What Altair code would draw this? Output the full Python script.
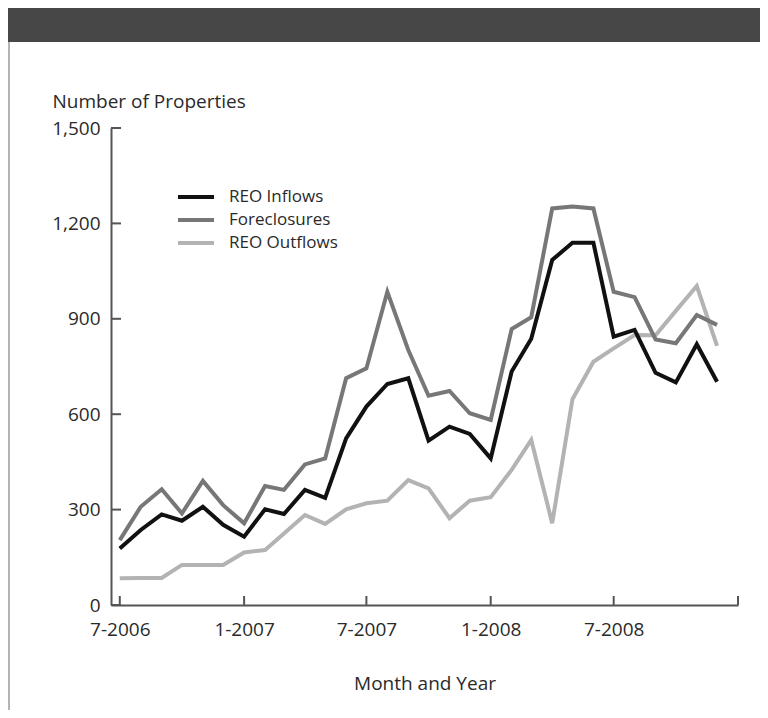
import altair as alt
import pandas as pd

months = pd.date_range("2006-07-01", "2008-12-01", freq="MS").strftime("%Y-%m-%d").tolist()

reo_inflows = [178, 236, 285, 265, 309, 252, 215, 301, 286, 362, 337, 524,
               624, 695, 713, 517, 561, 538, 461, 734, 837, 1085, 1139, 1139,
               844, 865, 730, 700, 820, 702]
foreclosures = [204, 309, 364, 288, 390, 314, 257, 374, 362, 442, 461, 713,
                744, 985, 802, 658, 673, 603, 582, 868, 905, 1247, 1253, 1247,
                985, 968, 835, 823, 912, 881]
reo_outflows = [84, 85, 85, 126, 126, 126, 165, 173, 225, 283, 255, 301,
                320, 328, 393, 367, 273, 328, 339, 425, 519, 257, 647, 765,
                807, 849, 848, 925, 1003, 815]

series_names = ["REO Inflows", "Foreclosures", "REO Outflows"]
series_colors = ["#111111", "#777777", "#b3b3b3"]

x_tick_dates = ["2006-07-01", "2007-01-01", "2007-07-01", "2008-01-01", "2008-07-01", "2009-01-01"]
y_tick_values = [0, 300, 600, 900, 1200, 1500]

rows = []
for name, vals in [("REO Outflows", reo_outflows), ("Foreclosures", foreclosures), ("REO Inflows", reo_inflows)]:
    for m, v in zip(months, vals):
        rows.append({"date": m, "series": name, "value": v})
df = pd.DataFrame(rows)

FONT = "Open Sans"
AX = "#555555"
TXT = "#2a2a2a"
W, H = 627, 477

xscale = alt.Scale(type="utc", domain=["2006-06-18", "2009-01-01"])
yscale = alt.Scale(domain=[0, 1500])

lines = alt.Chart(df).mark_line(strokeWidth=4, strokeJoin="miter", strokeCap="butt").encode(
    x=alt.X("date:T", scale=xscale,
            axis=alt.Axis(values=x_tick_dates,
                          labelExpr="year(datum.value) == 2009 ? '' : timeFormat(datum.value, '%-m-%Y')",
                          ticks=False, tickSize=0, grid=False, domainColor=AX, domainWidth=2,
                          labelFont=FONT, labelFontSize=19, labelColor=TXT, labelPadding=15,
                          title="Month and Year", titleFont=FONT, titleFontSize=19, titleFontWeight="normal",
                          titleColor=TXT, titleY=78, titleBaseline="middle")),
    y=alt.Y("value:Q", scale=yscale,
            axis=alt.Axis(values=y_tick_values, format=",d", ticks=False, tickSize=0, grid=False,
                          domainColor=AX, domainWidth=2, labelFont=FONT, labelFontSize=19,
                          labelColor=TXT, labelPadding=11,
                          title="Number of Properties", titleFont=FONT, titleFontSize=19,
                          titleFontWeight="normal", titleColor=TXT, titleAngle=0,
                          titleAlign="left", titleBaseline="alphabetic", titleX=-59, titleY=-21)),
    color=alt.Color("series:N", scale=alt.Scale(domain=series_names, range=series_colors),
                    legend=alt.Legend(title=None, orient="none", legendX=74, legendY=58, padding=0,
                                      symbolType="M-2,0H2", symbolSize=324, symbolStrokeWidth=4,
                                      labelFont=FONT, labelFontSize=17, labelColor=TXT,
                                      labelOffset=22, rowPadding=4)),
)

xt = alt.Chart(pd.DataFrame({"date": x_tick_dates})).mark_rule(color=AX, strokeWidth=2).encode(
    x=alt.X("date:T", scale=xscale), y=alt.value(H), y2=alt.value(H - 9))
yt = alt.Chart(pd.DataFrame({"value": y_tick_values})).mark_rule(color=AX, strokeWidth=2).encode(
    y=alt.Y("value:Q", scale=yscale), x=alt.value(0), x2=alt.value(10))

header = alt.Chart(pd.DataFrame({"k": [0]})).mark_rect(color="#474747").encode(
    x=alt.value(-103), x2=alt.value(649), y=alt.value(-120), y2=alt.value(-86))
border = alt.Chart(pd.DataFrame({"k": [0]})).mark_rule(color="#9a9a9a", strokeWidth=1.5).encode(
    x=alt.value(-102), y=alt.value(-86), y2=alt.value(H + 105))

chart = alt.layer(header, border, xt, yt, lines).properties(
    width=W, height=H,
    background="white",
    padding={"left": 103, "top": 120, "right": 22, "bottom": 105},
    autosize=alt.AutoSizeParams(type="none"),
).configure_view(strokeWidth=0, stroke="transparent")

chart.save("out.html", embed_options={"renderer": "svg", "actions": False})
